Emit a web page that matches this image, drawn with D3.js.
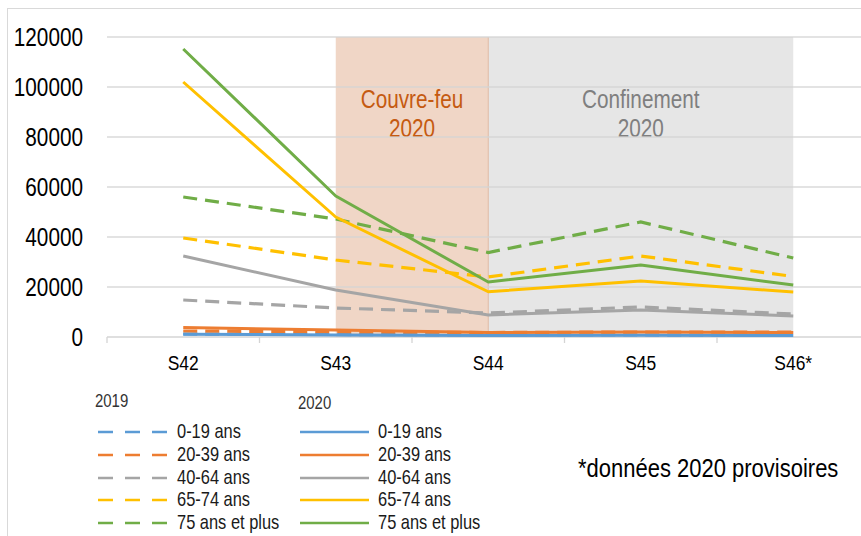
<!DOCTYPE html>
<html><head><meta charset="utf-8">
<script src="https://cdn.jsdelivr.net/npm/d3@7"></script>
<style>body{margin:0;background:#fff;} svg{display:block;font-family:"Liberation Sans",Arial,sans-serif;}</style>
</head><body>
<svg id="c" width="861" height="536"></svg>
<script>
const weeks = ["S42","S43","S44","S45","S46*"];
const groups = ["0-19 ans","20-39 ans","40-64 ans","65-74 ans","75 ans et plus"];
const colors = ["#5B9BD5","#ED7D31","#A5A5A5","#FFC000","#70AD47"];
const yTicks = [0,20000,40000,60000,80000,100000,120000];
// 2019 (dashed)
const v2019_0_19 = [1200,1000,800,800,700];
const v2019_20_39 = [2400,2100,1800,2000,2000];
const v2019_40_64 = [14800,11600,9600,12000,9200];
const v2019_65_74 = [39600,30800,24000,32400,24200];
const v2019_75 = [56000,47200,33800,46000,31600];
// 2020 (solid)
const v2020_0_19 = [1100,800,600,700,600];
const v2020_20_39 = [3800,2800,1800,2000,1800];
const v2020_40_64 = [32400,18800,8800,10800,8400];
const v2020_65_74 = [102000,48000,18100,22400,18000];
const v2020_75 = [115200,56400,22000,28800,20800];
const series2019 = [v2019_0_19,v2019_20_39,v2019_40_64,v2019_65_74,v2019_75];
const series2020 = [v2020_0_19,v2020_20_39,v2020_40_64,v2020_65_74,v2020_75];
const periods = [{label:["Couvre-feu","2020"], from:"S43", to:"S44", fill:"#F0D6C6", text:"#C55A11"},
                 {label:["Confinement","2020"], from:"S44", to:"S46*", fill:"#E6E6E6", text:"#7F7F7F"}];

const svg = d3.select("#c");
const SX = 0.83; // narrow font emulation
function txt(parent, x, y, s, size, anchor, fill){
  return parent.append("text").attr("transform",`translate(${x},${y}) scale(${SX},1)`)
    .attr("font-size",size).attr("text-anchor",anchor||"start").attr("fill",fill||"#000").text(s);
}

svg.append("rect").attr("x",7.5).attr("y",8.5).attr("width",900).attr("height",600)
  .attr("fill","none").attr("stroke","#D9D9D9");

const x0 = 107, bw = 152.5;
const x = d3.scaleBand().domain(weeks).range([x0, x0 + bw*weeks.length]);
const xc = d => x(d) + x.bandwidth()/2;
const y = d3.scaleLinear().domain([0,120000]).range([337,37]);

// periods
periods.forEach(p=>{
  svg.append("rect").attr("x",xc(p.from)).attr("y",y(120000))
    .attr("width",xc(p.to)-xc(p.from)).attr("height",y(0)-y(120000)).attr("fill",p.fill);
  const cx = (xc(p.from)+xc(p.to))/2;
  txt(svg, cx, 108, p.label[0], 25, "middle", p.text);
  txt(svg, cx, 137, p.label[1], 25, "middle", p.text);
});
svg.append("line").attr("x1",xc("S44")).attr("x2",xc("S44")).attr("y1",y(120000)).attr("y2",y(0))
  .attr("stroke","#E0B9A2").attr("stroke-width",1);

// gridlines
svg.append("g").selectAll("line").data(yTicks.slice(1)).join("line")
  .attr("x1",x0).attr("x2",861).attr("y1",d=>y(d)).attr("y2",d=>y(d))
  .attr("stroke","#D4D4D4").attr("stroke-width",1.3).attr("opacity",0.85);

// y axis labels
const fmt = d3.format("d");
const ya = svg.append("g");
yTicks.forEach(t=>txt(ya, 83, y(t)+9, fmt(t), 25, "end", "#000"));

// x axis
svg.append("line").attr("x1",x0).attr("x2",861).attr("y1",y(0)).attr("y2",y(0))
  .attr("stroke","#D4D4D4").attr("stroke-width",1.3);
svg.append("g").selectAll("line").data(weeks).join("line")
  .attr("x1",d=>x(d)).attr("x2",d=>x(d)).attr("y1",y(0)).attr("y2",y(0)+6)
  .attr("stroke","#D4D4D4").attr("stroke-width",1.3);
const xa = svg.append("g");
weeks.forEach(w=>txt(xa, xc(w), 370, w, 21, "middle", "#000"));

const line = d3.line().x((d,i)=>xc(weeks[i])).y(d=>y(d));
series2019.forEach((s,i)=>{
  svg.append("path").datum(s).attr("d",line).attr("fill","none")
    .attr("stroke",colors[i]).attr("stroke-width",3.2).attr("stroke-dasharray","14,8");
});
series2020.forEach((s,i)=>{
  svg.append("path").datum(s).attr("d",line).attr("fill","none")
    .attr("stroke",colors[i]).attr("stroke-width",3).attr("stroke-linejoin","round");
});

// legend
const lg = svg.append("g");
txt(lg, 95, 407, "2019", 18, "start", "#333");
txt(lg, 298, 409, "2020", 18, "start", "#333");
const rowY = [432,455,478,500,523];
groups.forEach((g,i)=>{
  lg.append("line").attr("x1",98).attr("x2",167).attr("y1",rowY[i]).attr("y2",rowY[i])
    .attr("stroke",colors[i]).attr("stroke-width",2.5).attr("stroke-dasharray","15,12");
  txt(lg, 177, rowY[i]+6, g, 19.8, "start", "#1a1a1a");
  lg.append("line").attr("x1",300).attr("x2",369).attr("y1",rowY[i]).attr("y2",rowY[i])
    .attr("stroke",colors[i]).attr("stroke-width",2.5);
  txt(lg, 378, rowY[i]+6, g, 19.8, "start", "#1a1a1a");
});
txt(svg, 578, 477, "*données 2020 provisoires", 26.5, "start", "#000");
</script>
</body></html>
